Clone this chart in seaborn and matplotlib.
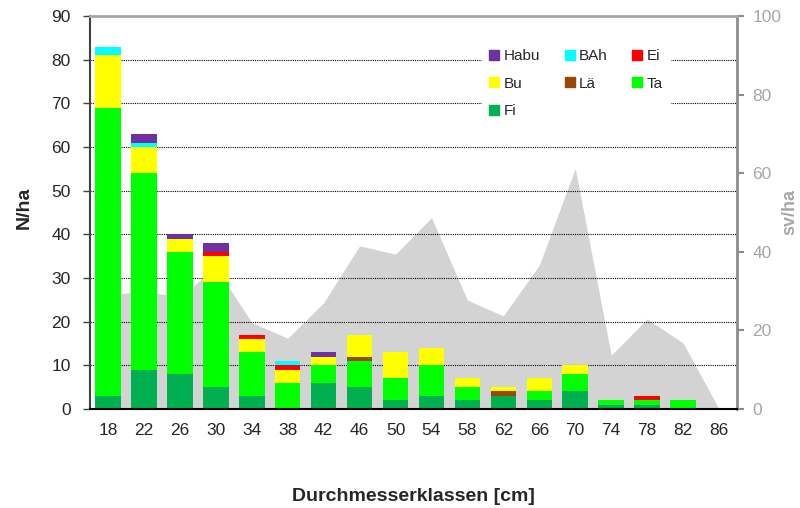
import numpy as np
import pandas as pd
import seaborn as sns
import matplotlib.pyplot as plt
from matplotlib.lines import Line2D

# Durchmesserklassen
klassen = ['18', '22', '26', '30', '34', '38', '42', '46', '50',
           '54', '58', '62', '66', '70', '74', '78', '82', '86']

# N/ha je Baumart (Stapel von unten nach oben)
fi = [3, 9, 8, 5, 3, 0, 6, 5, 2, 3, 2, 3, 2, 4, 1, 1, 0, 0]
ta = [66, 45, 28, 24, 10, 6, 4, 6, 5, 7, 3, 0, 2, 4, 1, 1, 2, 0]
lae = [0, 0, 0, 0, 0, 0, 0, 1, 0, 0, 0, 1, 0, 0, 0, 0, 0, 0]
bu = [12, 6, 3, 6, 3, 3, 2, 5, 6, 4, 2, 1, 3, 2, 0, 0, 0, 0]
ei = [0, 0, 0, 1, 1, 1, 0, 0, 0, 0, 0, 0, 0, 0, 0, 1, 0, 0]
bah = [2, 1, 0, 0, 0, 1, 0, 0, 0, 0, 0, 0, 0, 0, 0, 0, 0, 0]
habu = [0, 2, 1, 2, 0, 0, 1, 0, 0, 0, 0, 0, 0, 0, 0, 0, 0, 0]

# Vorrat sv/ha (Flaeche, rechte Achse)
sv = [29, 30, 28.5, 36, 22, 18, 27, 41.5, 39.4, 48.7, 27.7, 23.7,
      36.6, 61.2, 13.7, 22.9, 16.8, 0]

arten = ['Fi', 'Ta', 'Lä', 'Bu', 'Ei', 'BAh', 'Habu']
farben = {'Fi': '#00B050', 'Ta': '#00FF00', 'Lä': '#984807', 'Bu': '#FFFF00',
          'Ei': '#FF0000', 'BAh': '#00FFFF', 'Habu': '#7030A0'}

df = pd.DataFrame({'Fi': fi, 'Ta': ta, 'Lä': lae, 'Bu': bu, 'Ei': ei,
                   'BAh': bah, 'Habu': habu}, index=klassen)
cum = df[arten].cumsum(axis=1)

sns.set_style('white')
plt.rcParams['font.family'] = ['Liberation Sans', 'DejaVu Sans']

fig = plt.figure(figsize=(8, 5.08), dpi=100)
ax = fig.add_axes([0.1125, 0.195, 0.80875, 0.7735])
ax2 = ax.twinx()
ax.set_zorder(ax2.get_zorder() + 1)
ax.patch.set_visible(False)

# gray area on secondary axis
ax2.fill_between(np.arange(len(klassen)), sv, 0, color='#D3D3D3', lw=0)
ax2.set_ylim(0, 100)
ax2.set_yticks(range(0, 101, 20))

# stacked bars: draw cumulative totals from top to bottom
for art in arten[::-1]:
    sns.barplot(x=klassen, y=cum[art].values, order=klassen, color=farben[art],
                saturation=1, width=0.71, linewidth=0, ax=ax)

ax.set_xlim(-0.5, len(klassen) - 0.5)
ax.set_ylim(0, 90)
ax.set_yticks(range(0, 91, 10))
ax.set_axisbelow(True)
ax.yaxis.grid(True, color='black', linestyle=(0, (1, 1)), linewidth=0.8)
ax.xaxis.grid(False)

# x ticks between categories
ax.set_xticks(np.arange(len(klassen)))
ax.set_xticklabels(klassen)
ax.set_xticks(np.arange(len(klassen) + 1) - 0.5, minor=True)
ax.tick_params(axis='x', which='major', length=0, pad=10, labelsize=12.5)
ax.tick_params(axis='x', which='minor', length=6, width=1, color='black', direction='out')
ax.tick_params(axis='y', length=5, width=1, color='#404040', pad=9, labelsize=12.5,
               direction='out', left=True)
ax2.tick_params(axis='y', length=5, width=1.5, color='#8C8C8C', labelcolor='#A6A6A6',
                pad=6, labelsize=12.5, direction='out', right=True)

for s in ['left', 'bottom']:
    ax.spines[s].set_visible(True)
    ax.spines[s].set_color('#404040')
    ax.spines[s].set_linewidth(1.5)
ax.spines['bottom'].set_color('black')
ax.spines['right'].set_visible(False)
ax.spines['top'].set_color('#A6A6A6')
ax.spines['top'].set_linewidth(2)
ax2.spines['right'].set_color('#8C8C8C')
ax2.spines['right'].set_linewidth(2)
for s in ['left', 'top', 'bottom']:
    ax2.spines[s].set_visible(False)

ax.set_xlabel('Durchmesserklassen [cm]', fontsize=14, fontweight='bold', labelpad=36)
ax.set_ylabel('N/ha', fontsize=14, fontweight='bold')
ax.yaxis.set_label_coords(-0.088, 0.511)
ax2.set_ylabel('sv/ha', fontsize=13, fontweight='bold', color='#A6A6A6', rotation=90)
ax2.yaxis.set_label_coords(1.069, 0.501)

# legend in Excel row order
leg_order = ['Habu', 'Bu', 'Fi', 'BAh', 'Lä', 'Ei', 'Ta']
handles = [Line2D([], [], marker='s', linestyle='none', markersize=7,
                  markerfacecolor=farben[a], markeredgecolor=farben[a]) for a in leg_order]
leg = ax.legend(handles, leg_order, ncol=3, fontsize=11, frameon=True,
                loc='upper left', bbox_to_anchor=(0.594, 0.955), handlelength=0.6,
                handletextpad=0.3, columnspacing=1.65, labelspacing=0.9,
                borderpad=0.5, fancybox=False)
leg.get_frame().set_facecolor('white')
leg.get_frame().set_edgecolor('white')
leg.get_frame().set_alpha(1)

fig.savefig('out.png', dpi=100)
